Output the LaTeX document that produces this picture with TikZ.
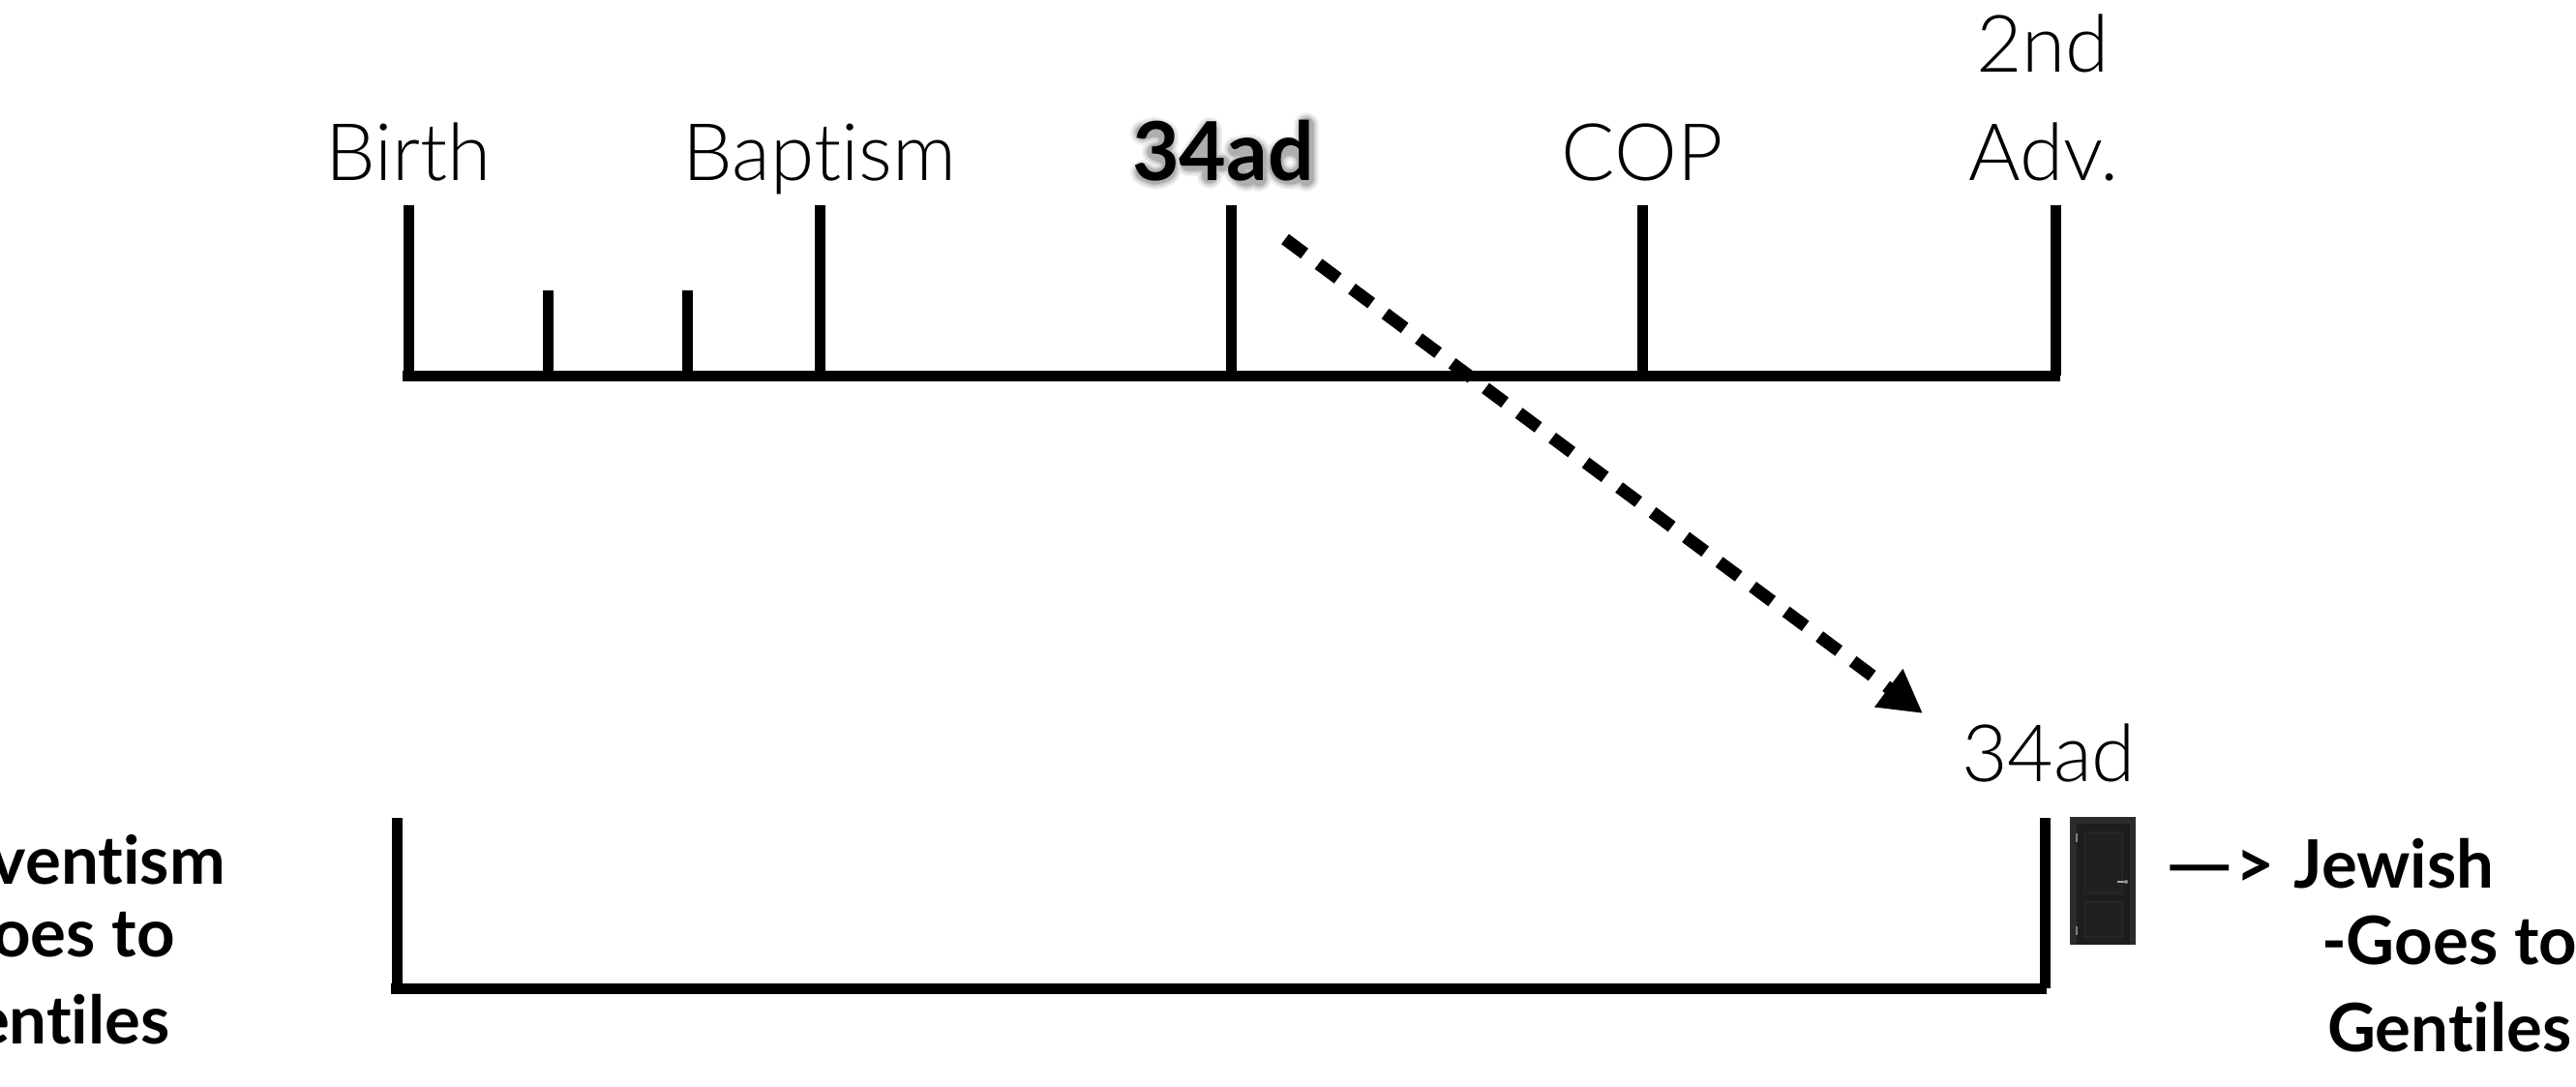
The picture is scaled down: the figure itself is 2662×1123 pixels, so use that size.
\documentclass[tikz,border=0pt]{standalone}
\usepackage{fontspec}
\setmainfont[Ligatures=NoCommon]{Lato}
\newfontfamily\lightf[Ligatures=NoCommon]{Lato Light}
\usetikzlibrary{arrows.meta}
\definecolor{doorframe}{HTML}{2B2B2E}
\definecolor{doorleaf}{HTML}{1D1D20}
\definecolor{doorpanel}{HTML}{202023}
\tikzset{
 lab/.style={anchor=base,inner sep=0pt,font=\lightf\fontsize{82}{82}\selectfont},
 boldlab/.style={anchor=base west,inner sep=0pt,font=\bfseries\fontsize{69}{69}\selectfont},
 boldleft/.style={anchor=base east,inner sep=0pt,font=\bfseries\fontsize{69}{69}\selectfont},
 rule/.style={line width=11pt,line cap=butt},
 panelbox/.style={draw=black!85!white,line width=1.5pt,fill=doorpanel}
}
\newcommand\shadowskel{
 plot[smooth] coordinates {(1178,133)(1190,130)(1202,135)(1200,149)(1190,153)(1204,160)(1204,174)(1190,179)(1178,174)}
 (1247,178)--(1247,130)--(1225,165)--(1260,165)
 plot[smooth] coordinates {(1274,150)(1290,148)(1298,155)(1298,181)}
 plot[smooth] coordinates {(1298,164)(1282,164)(1274,172)(1284,181)(1298,176)}
 (1347,125)--(1347,181)
 (1330,164) circle[radius=15]
}
\begin{document}
\begin{tikzpicture}[x=1pt,y=-1pt]
\useasboundingbox (0,0) rectangle (2662,1123);
\clip (0,0) rectangle (2662,1123);
\node[lab] (birth) at (422,187) {Birth};
\node[lab] (baptism) at (847,187) {Baptism};
\foreach \w/\a in {26/.06,22/.08,18/.10,15/.12}
 \draw[line width=\w pt,black,opacity=\a,line join=round,line cap=round,shift={(3pt,-4pt)}] \shadowskel;
\node[anchor=base,inner sep=0pt,font=\bfseries\fontsize{84}{84}\selectfont] (bold34) at (1264,187) {34ad};
\node[lab] (cop) at (1697,187) {COP};
\node[lab] (second) at (2111,75) {2nd};
\node[lab] (adv) at (2112,187) {Adv.};
\node[lab] (low34) at (2117,807) {34ad};
\coordinate (a0) at (416,388); \coordinate (a1) at (2129,388);
\draw[rule] (a0)--(a1);
\foreach \n/\x/\t in {t1/422/212,t2/566/300,t3/710/300,t4/847/212,t5/1272/212,t6/1697/212,t7/2124/212}{
 \coordinate (\n) at (\x,\t);
 \draw[rule] (\n)--(\x,388);
}
\coordinate (b0) at (404,1021); \coordinate (b1) at (2115,1021);
\coordinate (bl) at (410,845); \coordinate (br) at (2113,845);
\draw[rule] (b0)--(b1);
\draw[rule] (bl)--(410,1021);
\draw[rule] (br)--(2113,1021);
\coordinate (as) at (1328,247); \coordinate (ae) at (1987,737);
\draw[line width=13pt,dash pattern=on 25pt off 18pt,-{Triangle[length=44pt,width=46pt]}] (as)--(ae);
% door
\node[fill=doorframe,minimum width=68pt,minimum height=132pt,anchor=north west,inner sep=0pt] (door) at (2139,844) {};
\fill[doorleaf] (2146,851) rectangle (2201,976);
\draw[panelbox] (2154,860) rectangle (2193,923);
\draw[panelbox] (2154,932) rectangle (2193,968);
\fill[black!35!white] (2188,910) rectangle (2198,912);
\fill[black!45!white] (2197,911) circle[radius=2];
\fill[black!50!white] (2145,861) rectangle (2147,870);
\fill[black!50!white] (2145,957) rectangle (2147,966);
% texts
\node[boldleft] (lt1) at (233,913) {Adventism};
\node[boldleft] (lt2) at (181,988) {-Goes to};
\node[boldleft] (lt3) at (176,1078) {Gentiles};
\node[boldlab] (rt1) at (2237,917) {\scalebox{1.3}[1]{—}\kern2pt>\kern3pt{} Jewish};
\node[boldlab] (rt2) at (2399,996) {-Goes to};
\node[boldlab] (rt3) at (2405,1086) {Gentiles};
\end{tikzpicture}
\end{document}
